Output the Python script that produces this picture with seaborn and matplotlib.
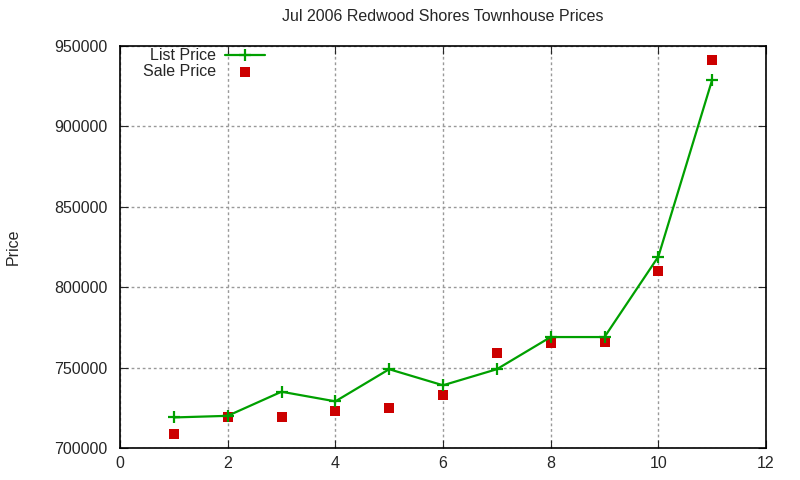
import pandas as pd
import matplotlib
matplotlib.use("Agg")
import matplotlib.pyplot as plt
import seaborn as sns

# Values
house = [1, 2, 3, 4, 5, 6, 7, 8, 9, 10, 11]
list_price = [719000, 720000, 735000, 729000, 749000, 739000, 749000, 769000, 769000, 819000, 929000]
sale_price = [709000, 719500, 719500, 723000, 725000, 733000, 759000, 765000, 766000, 810000, 941000]

df = pd.DataFrame({"house": house, "list": list_price, "sale": sale_price})

sns.set_style("ticks")
plt.rcParams["font.family"] = ["Liberation Sans", "DejaVu Sans"]

fig = plt.figure(figsize=(8, 4.8), dpi=100)
ax = fig.add_axes([120 / 800, 1 - 448 / 480, 646 / 800, 402 / 480])

green = "#00a000"
sns.lineplot(x="house", y="list", data=df, ax=ax, color=green, linewidth=1.6,
             marker="+", markersize=8, markeredgewidth=1.6, markeredgecolor=green,
             label="List Price")
sns.scatterplot(x="house", y="sale", data=df, ax=ax, color="#cc0000", marker="s",
                s=45, linewidth=0, label="Sale Price")

ax.set_xlim(0, 12)
ax.set_ylim(700000, 950000)
ax.set_xticks(range(0, 13, 2))
ax.set_yticks(range(700000, 950001, 50000))
ax.grid(True, color="#999999", linestyle=(0, (2, 2)), linewidth=1)
ax.tick_params(direction="in", top=True, right=True, length=6, labelsize=11.5)
ax.tick_params(axis="y", pad=9)
ax.tick_params(axis="x", pad=6)
for s in ax.spines.values():
    s.set_linewidth(1.2)
    s.set_color("black")

ax.set_title("Jul 2006 Redwood Shores Townhouse Prices", fontsize=11.5, pad=18)
ax.set_xlabel("")
ax.set_ylabel("Price", fontsize=11.5)
ax.yaxis.set_label_coords(-0.154, 0.5)

ax.legend(loc="upper left", bbox_to_anchor=(0.02, 1.018), frameon=False, markerfirst=False,
          fontsize=11.5, handlelength=2.5, handletextpad=0.6, labelspacing=0.05,
          borderaxespad=0.2)

fig.savefig("out.png", dpi=100)
